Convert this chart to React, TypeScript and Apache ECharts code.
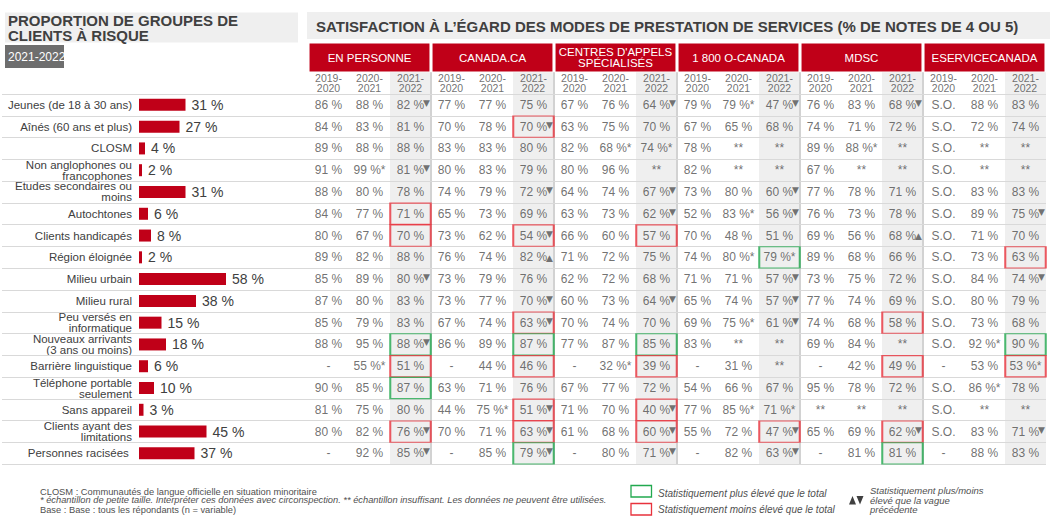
import React, { useEffect, useRef } from "react";
import * as echarts from "echarts";

const rowLabels = [
  "Jeunes (de 18 à 30 ans)",
  "Aînés (60 ans et plus)",
  "CLOSM",
  "Non anglophones ou\nfrancophones",
  "Etudes secondaires ou\nmoins",
  "Autochtones",
  "Clients handicapés",
  "Région éloignée",
  "Milieu urbain",
  "Milieu rural",
  "Peu versés en\ninformatique",
  "Nouveaux arrivants\n(3 ans ou moins)",
  "Barrière linguistique",
  "Téléphone portable\nseulement",
  "Sans appareil",
  "Clients ayant des\nlimitations",
  "Personnes racisées ",
];
const riskShare = [31, 27, 4, 2, 31, 6, 8, 2, 58, 38, 15, 18, 6, 10, 3, 45, 37];

const modes = [
  "EN PERSONNE",
  "CANADA.CA",
  "CENTRES D'APPELS\nSPÉCIALISÉS",
  "1 800 O-CANADA",
  "MDSC",
  "ESERVICECANADA",
];
const waves = ["2019-\n2020", "2020-\n2021", "2021-\n2022"];

const enPersonne = [
  ["86", "88", "82"], ["84", "83", "81"], ["89", "88", "88"], ["91", "99*", "81"],
  ["88", "80", "78"], ["84", "77", "71"], ["80", "67", "70"], ["89", "82", "88"],
  ["85", "89", "80"], ["87", "80", "83"], ["85", "79", "83"], ["88", "95", "88"],
  ["-", "55*", "51"], ["90", "85", "87"], ["81", "75", "80"], ["80", "82", "76"],
  ["-", "92", "85"],
];
const canadaCa = [
  ["77", "77", "75"], ["70", "78", "70"], ["83", "83", "80"], ["80", "83", "79"],
  ["74", "79", "72"], ["65", "73", "69"], ["73", "62", "54"], ["76", "74", "82"],
  ["73", "79", "76"], ["73", "77", "70"], ["67", "74", "63"], ["86", "89", "87"],
  ["-", "44", "46"], ["63", "71", "76"], ["44", "75*", "51"], ["70", "71", "63"],
  ["-", "85", "79"],
];
const centresAppels = [
  ["67", "76", "64"], ["63", "75", "70"], ["82", "68*", "74*"], ["80", "96", "**"],
  ["64", "74", "67"], ["63", "73", "62"], ["66", "60", "57"], ["71", "72", "75"],
  ["62", "72", "68"], ["60", "73", "64"], ["70", "74", "70"], ["77", "87", "85"],
  ["-", "32*", "39"], ["67", "77", "72"], ["71", "70", "40"], ["61", "68", "60"],
  ["-", "80", "71"],
];
const oCanada = [
  ["79", "79*", "47"], ["67", "65", "68"], ["78", "**", "**"], ["82", "**", "**"],
  ["73", "80", "60"], ["52", "83*", "56"], ["70", "48", "51"], ["74", "80*", "79*"],
  ["71", "71", "57"], ["65", "74", "57"], ["69", "75*", "61"], ["83", "**", "**"],
  ["-", "31", "**"], ["54", "66", "67"], ["77", "85*", "71*"], ["55", "72", "47"],
  ["-", "82", "63"],
];
const mdsc = [
  ["76", "83", "68"], ["74", "71", "72"], ["89", "88*", "**"], ["67", "**", "**"],
  ["77", "78", "71"], ["76", "73", "78"], ["69", "56", "68"], ["89", "68", "66"],
  ["73", "75", "72"], ["77", "74", "69"], ["74", "68", "58"], ["69", "84", "**"],
  ["-", "42", "49"], ["95", "78", "72"], ["**", "**", "**"], ["65", "69", "62"],
  ["-", "81", "81"],
];
const eserviceCanada = [
  ["S.O.", "88", "83"], ["S.O.", "72", "74"], ["S.O.", "**", "**"], ["S.O.", "**", "**"],
  ["S.O.", "83", "83"], ["S.O.", "89", "75"], ["S.O.", "71", "70"], ["S.O.", "73", "63"],
  ["S.O.", "84", "74"], ["S.O.", "80", "79"], ["S.O.", "73", "68"], ["S.O.", "92*", "90"],
  ["-", "53", "53*"], ["S.O.", "86*", "78"], ["S.O.", "**", "**"], ["S.O.", "83", "71"],
  ["-", "88", "83"],
];
const modeValues = [enPersonne, canadaCa, centresAppels, oCanada, mdsc, eserviceCanada];

// [mode index, row index, direction] for the 2021-2022 wave vs previous wave
const trendMarks: [number, number, string][] = [
  [0, 0, "d"], [0, 3, "d"], [0, 8, "d"], [0, 11, "d"], [0, 15, "d"], [0, 16, "d"],
  [1, 1, "d"], [1, 4, "d"], [1, 6, "d"], [1, 7, "u"], [1, 9, "d"], [1, 10, "d"], [1, 14, "d"], [1, 15, "d"], [1, 16, "d"],
  [2, 0, "d"], [2, 4, "d"], [2, 5, "d"], [2, 9, "d"], [2, 14, "d"], [2, 15, "d"], [2, 16, "d"],
  [3, 0, "d"], [3, 4, "d"], [3, 5, "d"], [3, 8, "d"], [3, 9, "d"], [3, 10, "d"], [3, 15, "d"], [3, 16, "d"],
  [4, 0, "d"], [4, 6, "u"], [4, 15, "d"],
  [5, 5, "d"], [5, 8, "d"], [5, 15, "d"],
];

// [mode index, row index, higher (g) / lower (r) than total]
const significance: [number, number, string][] = [
  [0, 5, "r"], [0, 6, "r"], [0, 11, "g"], [0, 12, "r"], [0, 13, "g"], [0, 15, "r"],
  [1, 1, "r"], [1, 6, "r"], [1, 10, "r"], [1, 11, "g"], [1, 12, "r"], [1, 14, "r"], [1, 15, "r"], [1, 16, "g"],
  [2, 6, "r"], [2, 11, "g"], [2, 12, "r"], [2, 14, "r"], [2, 15, "r"],
  [3, 7, "g"], [3, 15, "r"],
  [4, 10, "r"], [4, 12, "r"], [4, 15, "r"], [4, 16, "g"],
  [5, 7, "r"], [5, 11, "g"], [5, 12, "r"],
];

const FONT = "'Liberation Sans', Arial, Helvetica, sans-serif";
const TEXT = "#404040";
const VALUE = "#4d4d4d";
const RED = "#c00018";
const GREEN_BOX = "#22a94f";
const RED_BOX = "#e8323c";

const ROW_TOP = 72.2;
const ROW_H = 21.78;

function fmt(v: string): string {
  if (v === "-" || v === "**" || v === "S.O.") return v;
  const star = v.endsWith("*");
  const n = star ? v.slice(0, -1) : v;
  return `${n} %${star ? "*" : ""}`;
}

export default function App() {
  const ref = useRef<HTMLDivElement>(null);

  useEffect(() => {
    if (!ref.current) return;
    const chart = echarts.init(ref.current, undefined, { renderer: "svg" });

    const columnKeys: string[] = [];
    modes.forEach((m, g) => waves.forEach((w, k) => columnKeys.push(`${g}-${k}`)));
    const tableRows = ["header", ...rowLabels];

    const yearCells: any[] = [];
    modes.forEach((m, g) =>
      waves.forEach((w, k) => yearCells.push({ name: w, value: [g * 3 + k, 0] }))
    );

    const valueCells: any[] = [];
    modeValues.forEach((rows, g) =>
      rows.forEach((vals, r) =>
        vals.forEach((v, k) => valueCells.push({ name: fmt(v), value: [g * 3 + k, r + 1] }))
      )
    );

    const arrowCells = trendMarks.map(([g, r, d]) => ({
      name: d === "d" ? "▼" : "▲",
      value: [g * 3 + 2, r + 1],
      label: { offset: d === "d" ? [16, -2] : [16, 0.5] },
    }));

    const boxCells = significance.map(([g, r, c]) => ({
      value: [g * 3 + 2, r + 1],
      itemStyle: { borderColor: c === "g" ? GREEN_BOX : RED_BOX },
    }));

    const option: any = {
      animation: false,
      textStyle: { fontFamily: FONT },
      grid: [
        { left: 139, top: ROW_TOP + ROW_H, width: 150, height: ROW_H * 17, outerBoundsMode: "none", containLabel: false },
        { left: 308, top: ROW_TOP, width: 738, height: ROW_H * 18, outerBoundsMode: "none", containLabel: false },
        { left: 2, top: ROW_TOP, width: 1044, height: ROW_H * 18, outerBoundsMode: "none", containLabel: false },
        { left: 308, top: 43.5, width: 738, height: 28, outerBoundsMode: "none", containLabel: false },
      ],
      xAxis: [
        { gridIndex: 0, type: "value", min: 0, max: 100, show: false },
        {
          gridIndex: 1,
          type: "category",
          data: columnKeys,
          axisLine: { show: false },
          axisTick: { show: false },
          axisLabel: { show: false },
          splitLine: {
            show: true,
            interval: (i: number) => i > 0 && i % 3 === 0,
            lineStyle: { color: ["#d2d2d2", "#d2d2d2", "#d2d2d2", "#d2d2d2", "#d2d2d2", "rgba(0,0,0,0)"], width: 2 },
          },
          splitArea: {
            show: true,
            interval: 0,
            areaStyle: { color: ["rgba(0,0,0,0)", "rgba(0,0,0,0)", "#efefef"] },
          },
        },
        { gridIndex: 2, type: "value", min: 0, max: 1, show: false },
        { gridIndex: 3, type: "category", data: modes, show: false },
      ],
      yAxis: [
        {
          gridIndex: 0,
          type: "category",
          data: rowLabels,
          inverse: true,
          axisLine: { show: false },
          axisTick: { show: false },
          splitLine: { show: false },
          axisLabel: {
            interval: 0,
            margin: 7,
            fontSize: 11.5,
            lineHeight: 11,
            color: TEXT,
            fontFamily: FONT,
          },
        },
        {
          gridIndex: 1,
          type: "category",
          data: tableRows,
          inverse: true,
          axisLine: { show: false },
          axisTick: { show: false },
          axisLabel: { show: false },
          splitLine: { show: false },
        },
        {
          gridIndex: 2,
          type: "category",
          data: tableRows,
          inverse: true,
          z: 3,
          axisLine: { show: false },
          axisTick: { show: false },
          axisLabel: { show: false },
          splitLine: {
            show: true,
            interval: (i: number) => i > 0,
            lineStyle: { color: "#d9d9d9", width: 1 },
          },
        },
        { gridIndex: 3, type: "value", min: 0, max: 1, show: false },
      ],
      series: [
        {
          type: "bar",
          xAxisIndex: 0,
          yAxisIndex: 0,
          data: riskShare,
          barWidth: 12,
          itemStyle: { color: RED },
          label: {
            show: true,
            position: "right",
            distance: 6,
            formatter: "{c} %",
            fontSize: 14,
            color: TEXT,
            fontFamily: FONT,
          },
          silent: true,
        },
        {
          type: "bar",
          xAxisIndex: 3,
          yAxisIndex: 3,
          data: modes.map(() => 1),
          barCategoryGap: "2.5%",
          itemStyle: { color: RED },
          label: {
            show: true,
            position: "inside",
            formatter: (p: any) => modes[p.dataIndex],
            color: "#ffffff",
            fontSize: 11.5,
            lineHeight: 10.5,
            fontFamily: FONT,
          },
          silent: true,
        },
        {
          type: "scatter",
          xAxisIndex: 1,
          yAxisIndex: 1,
          symbolSize: 0,
          data: yearCells,
          label: {
            show: true,
            position: "inside",
            formatter: "{b}",
            fontSize: 10.5,
            lineHeight: 10,
            color: VALUE,
            fontFamily: FONT,
          },
          silent: true,
          z: 4,
        },
        {
          type: "scatter",
          xAxisIndex: 1,
          yAxisIndex: 1,
          symbolSize: 0,
          data: valueCells,
          label: {
            show: true,
            position: "inside",
            formatter: "{b}",
            fontSize: 12,
            color: VALUE,
            fontFamily: FONT,
          },
          silent: true,
          z: 4,
        },
        {
          type: "scatter",
          xAxisIndex: 1,
          yAxisIndex: 1,
          symbolSize: 0,
          data: arrowCells,
          label: {
            show: true,
            position: "inside",
            formatter: "{b}",
            fontSize: 9,
            color: "#505050",
            fontFamily: "'DejaVu Sans', sans-serif",
          },
          silent: true,
          z: 4,
        },
        {
          type: "scatter",
          xAxisIndex: 1,
          yAxisIndex: 1,
          symbol: "rect",
          symbolSize: [40.5, ROW_H - 0.5],
          data: boxCells,
          itemStyle: { color: "rgba(0,0,0,0)", borderWidth: 1.5 },
          silent: true,
          z: 5,
        },
      ],
      graphic: [
        { type: "rect", shape: { x: 5, y: 12.5, width: 293, height: 30 }, style: { fill: "#efefef" } },
        {
          type: "text",
          x: 8,
          y: 13,
          style: {
            text: "PROPORTION DE GROUPES DE\nCLIENTS À RISQUE",
            fontSize: 15,
            fontWeight: "bold",
            lineHeight: 15,
            fontFamily: FONT,
            fill: TEXT,
            verticalAlign: "top",
          },
        },
        { type: "rect", shape: { x: 5, y: 45, width: 59, height: 23 }, style: { fill: "#6e6e6e" } },
        {
          type: "text",
          x: 8,
          y: 56.5,
          style: { text: "2021-2022", fontSize: 12, fontFamily: FONT, fill: "#ffffff", verticalAlign: "middle" },
        },
        { type: "rect", shape: { x: 307, y: 12, width: 743, height: 27 }, style: { fill: "#efefef" } },
        {
          type: "text",
          x: 316,
          y: 26,
          style: {
            text: "SATISFACTION À L’ÉGARD DES MODES DE PRESTATION DE SERVICES (% DE NOTES DE 4 OU 5)",
            fontSize: 15,
            fontWeight: "bold",
            fontFamily: FONT,
            fill: TEXT,
            verticalAlign: "middle",
          },
        },
        {
          type: "text",
          x: 40,
          y: 491.5,
          style: { text: "CLOSM : Communautés de langue officielle en situation minoritaire", fontSize: 9.3, fontFamily: FONT, fill: "#505050", verticalAlign: "middle" },
        },
        {
          type: "text",
          x: 40,
          y: 500.3,
          style: {
            text: "* échantillon de petite taille. Interpréter ces données avec circonspection. ** échantillon insuffisant. Les données ne peuvent être utilisées.",
            fontSize: 9.3,
            fontStyle: "italic",
            fontFamily: FONT,
            fill: "#505050",
            verticalAlign: "middle",
          },
        },
        {
          type: "text",
          x: 40,
          y: 509.5,
          style: { text: "Base : Base : tous les répondants (n = variable)", fontSize: 9.3, fontFamily: FONT, fill: "#505050", verticalAlign: "middle" },
        },
        { type: "rect", shape: { x: 631, y: 485.5, width: 20.5, height: 11.5 }, style: { fill: "none", stroke: GREEN_BOX, lineWidth: 1.3 } },
        { type: "rect", shape: { x: 631, y: 503.5, width: 20.5, height: 11.5 }, style: { fill: "none", stroke: RED_BOX, lineWidth: 1.3 } },
        {
          type: "text",
          x: 658,
          y: 493.3,
          style: { text: "Statistiquement plus élevé que le total", fontSize: 10, fontStyle: "italic", fontFamily: FONT, fill: "#505050", verticalAlign: "middle" },
        },
        {
          type: "text",
          x: 658,
          y: 509.3,
          style: { text: "Statistiquement moins élevé que le total", fontSize: 10, fontStyle: "italic", fontFamily: FONT, fill: "#505050", verticalAlign: "middle" },
        },
        { type: "polygon", shape: { points: [[849, 504.5], [856, 504.5], [852.5, 496]] }, style: { fill: "#404040" } },
        { type: "polygon", shape: { points: [[856.5, 496], [863.5, 496], [860, 504.5]] }, style: { fill: "#404040" } },
        {
          type: "text",
          x: 870,
          y: 500,
          style: {
            text: "Statistiquement plus/moins\nélevé que la vague\nprécédente",
            fontSize: 9.5,
            lineHeight: 9.5,
            fontStyle: "italic",
            fontFamily: FONT,
            fill: "#505050",
            verticalAlign: "middle",
          },
        },
      ],
    };

    chart.setOption(option);
    return () => chart.dispose();
  }, []);

  return (
    <div
      ref={ref}
      style={{ position: "fixed", left: 0, top: 0, width: 1053, height: 530, background: "#ffffff" }}
    />
  );
}
